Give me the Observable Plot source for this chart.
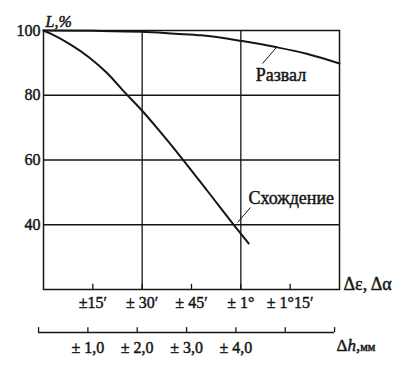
<!DOCTYPE html>
<html><head><meta charset="utf-8">
<script src="https://cdn.jsdelivr.net/npm/d3@7"></script>
<script src="https://cdn.jsdelivr.net/npm/@observablehq/plot@0.6"></script>
<style>
body{margin:0;background:#fff}
svg{display:block}
</style>
</head><body><div id="chart"></div>
<script>
// Series (x: angle in minutes, y: L, %)
const razvalX = [0, 15, 30, 40, 48, 60, 71, 80, 90];
const razvalY = [100, 99.9, 99.6, 99.0, 98.5, 96.8, 94.8, 92.8, 89.8];
const skhozhX = [0, 2, 8, 14, 19.4, 24.4, 30, 35, 41.7, 49.8, 57.9, 62.4];
const skhozhY = [100, 99.1, 95.8, 91.6, 86.8, 81.2, 75.2, 69.3, 61, 50.5, 39.9, 34.2];

// Axes
const yTicks = [40, 60, 80, 100];
const xTicks = [15, 30, 45, 60, 75];
const xTickLabels = ["±15′", "± 30′", "± 45′", "± 1°", "± 1°15′"];
const xGrid = [30, 60];
const yGrid = [40, 60, 80];
const mmTicks = [0, 1, 2, 3, 4, 5, 6];
const mmLabelTicks = [1, 2, 3, 4];
const mmLabels = ["± 1,0", "± 2,0", "± 3,0", "± 4,0"];
const mmToMin = mm => mm * 15 - 1.5; // lower scale in the units of the upper one

// Annotations
const seriesNames = ["Развал", "Схождение"];
const labelX = [64.5, 62.3];
const labelY = [86.1, 48.1];
const leaderX1 = [70.8, 59.0], leaderY1 = [94.75, 40.7];
const leaderX2 = [66.6, 62.9], leaderY2 = [89.8, 45.3];

const ink = "#151515";
const serif = "'Liberation Serif', 'Times New Roman', serif";
const razval = razvalX.map((x, i) => ({x, y: razvalY[i]}));
const skhozh = skhozhX.map((x, i) => ({x, y: skhozhY[i]}));
const ann = seriesNames.map((t, i) => ({t, x: labelX[i], y: labelY[i], x1: leaderX1[i], y1: leaderY1[i], x2: leaderX2[i], y2: leaderY2[i]}));
const txt = {fill: ink, stroke: ink, strokeWidth: 0.45};

const chart = Plot.plot({
  width: 403, height: 375,
  marginLeft: 43, marginRight: 64, marginTop: 30, marginBottom: 86,
  x: {domain: [0, 90], axis: null},
  y: {domain: [20, 100], axis: null},
  style: {fontSize: "16px", color: ink, background: "#fff"},
  marks: [
    Plot.ruleY(yGrid, {stroke: ink, strokeWidth: 1.3}),
    Plot.ruleX(xGrid, {stroke: ink, strokeWidth: 1.3}),
    Plot.frame({stroke: ink, strokeWidth: 1.5}),
    // inner ticks on the main x axis
    Plot.ruleX(xTicks, {x: d => d, y1: 20, y2: 21.6, stroke: ink, strokeWidth: 1.3}),
    Plot.text(xTicks, {x: d => d, frameAnchor: "bottom", text: (d, i) => xTickLabels[i], dy: 13, lineAnchor: "middle", fontSize: 16, ...txt}),
    Plot.text(yTicks, {y: d => d, frameAnchor: "left", text: d => String(d), textAnchor: "end", dx: -3, fontSize: 16, ...txt}),
    // curves
    Plot.line(razval, {x: "x", y: "y", curve: "monotone-x", stroke: ink, strokeWidth: 2}),
    Plot.line(skhozh, {x: "x", y: "y", curve: "monotone-x", stroke: ink, strokeWidth: 2}),
    // annotations
    Plot.link(ann, {x1: "x1", y1: "y1", x2: "x2", y2: "y2", stroke: ink, strokeWidth: 1}),
    Plot.text(ann, {x: "x", y: "y", text: "t", textAnchor: "start", fontSize: 18, ...txt}),
    // axis titles
    Plot.text(["L,%"], {frameAnchor: "top-left", dx: 2, dy: -15, textAnchor: "start", fontStyle: "italic", fontSize: 16, ...txt}),
    Plot.text(["Δε, Δα"], {frameAnchor: "bottom-right", dx: 4, dy: 0, textAnchor: "start", fontSize: 18, ...txt}),
    // lower (mm) scale
    Plot.ruleY([20], {x1: mmToMin(0), x2: mmToMin(6), dy: 43, stroke: ink, strokeWidth: 1.3}),
    Plot.ruleX(mmTicks, {x: mmToMin, y1: 20, y2: 21.5, dy: 43, stroke: ink, strokeWidth: 1.3}),
    Plot.text(mmLabelTicks, {x: mmToMin, frameAnchor: "bottom", text: (d, i) => mmLabels[i], dy: 58, lineAnchor: "middle", fontSize: 16, ...txt}),
    Plot.text(["Δh,мм"], {frameAnchor: "bottom-right", dx: -3, dy: 61, textAnchor: "start", fontSize: 17, ...txt})
  ]
});
chart.setAttribute("font-family", serif);
chart.style.fontFamily = serif;
document.getElementById("chart").append(chart);
d3.select(chart).selectAll("text").attr("font-family", serif).style("font-family", serif);
// italic h and small "мм" in the lower scale title
d3.select(chart).selectAll("text").each(function() {
  if (this.textContent === "Δh,мм") {
    this.textContent = "";
    const t = d3.select(this);
    t.append("tspan").text("Δ");
    t.append("tspan").attr("font-style", "italic").text("h");
    t.append("tspan").text(",");
    t.append("tspan").attr("font-size", 12).text("мм");
  }
});
</script>
</body></html>
